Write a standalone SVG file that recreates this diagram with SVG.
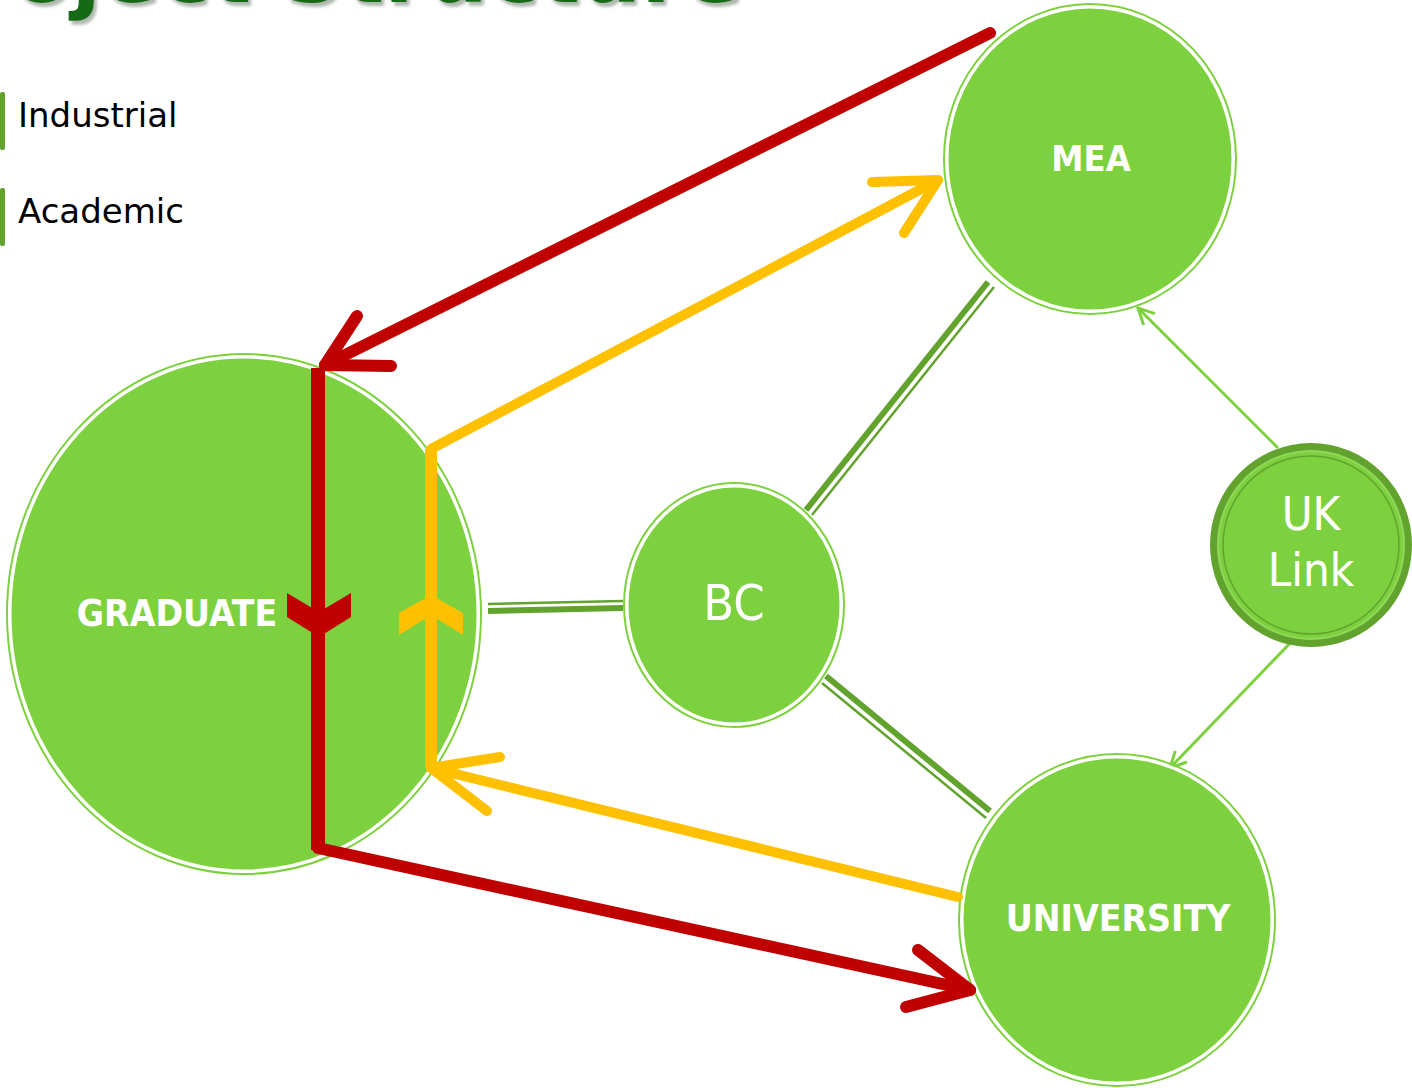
<svg xmlns="http://www.w3.org/2000/svg" width="1412" height="1088" viewBox="0 0 1412 1088">
<defs>
<style>
.node{fill:#7ED13E;stroke:#ffffff;stroke-width:3}
.ring{fill:none;stroke:#7ED13E;stroke-width:2}
.lbl{fill:#ffffff;font-family:"DejaVu Sans Condensed","DejaVu Sans",sans-serif;text-anchor:middle;dominant-baseline:central}
.b{font-weight:bold}
.thick{stroke:#62A32E;stroke-width:6;fill:none}
.thin{stroke:#62A32E;stroke-width:2.5;fill:none}
.link{stroke:#7ED13E;stroke-width:3;fill:none}
.red{stroke:#C00000;stroke-width:12;fill:none;stroke-linecap:round;stroke-linejoin:round}
.redv{stroke:#C00000;stroke-width:14;fill:none}
.yel{stroke:#FFC000;stroke-width:10;fill:none;stroke-linecap:round;stroke-linejoin:round}
.yelv{stroke:#FFC000;stroke-width:12;fill:none}
.leg{font-family:"DejaVu Sans","Verdana",sans-serif;font-size:34px;fill:#000}
</style>
<filter id="shadow" x="-5%" y="-50%" width="110%" height="200%">
<feDropShadow dx="3" dy="4" stdDeviation="1.5" flood-color="#7a8a7a" flood-opacity="0.6"/>
</filter>
<marker id="open" viewBox="0 0 20 20" refX="18" refY="10" markerWidth="20" markerHeight="20" markerUnits="userSpaceOnUse" orient="auto">
<path d="M2,2 L18,10 L2,18" fill="none" stroke="#7ED13E" stroke-width="3"/>
</marker>
</defs>
<rect width="1412" height="1088" fill="#ffffff"/>
<g id="title">
<text x="742" y="2" font-family="DejaVu Sans,Verdana,sans-serif" font-weight="bold" font-size="86" fill="#176A17" text-anchor="end" filter="url(#shadow)">Project Structure</text>
</g>
<g id="legend">
<rect x="0" y="92" width="5" height="58" rx="2" fill="#62A32E"/>
<text class="leg" x="18" y="127">Industrial</text>
<rect x="0" y="188" width="5" height="58" rx="2" fill="#62A32E"/>
<text class="leg" x="18" y="223">Academic</text>
</g>
<g id="connectors">
<line class="thin" x1="488" y1="604" x2="623" y2="601"/>
<line class="thick" x1="488" y1="611" x2="623" y2="608"/>
<line class="thick" x1="806" y1="510" x2="988" y2="282"/>
<line class="thin" x1="812" y1="515" x2="994" y2="287"/>
<line class="thick" x1="826" y1="676" x2="990" y2="811"/>
<line class="thin" x1="822" y1="683" x2="986" y2="818"/>
<line class="link" x1="1278" y1="448" x2="1138" y2="308" marker-end="url(#open)"/>
<line class="link" x1="1296" y1="637" x2="1170" y2="768" marker-end="url(#open)"/>
</g>
<g id="graduate">
<ellipse class="ring" cx="244" cy="614" rx="237" ry="260"/>
<ellipse class="node" cx="244" cy="614" rx="234" ry="257"/>
<text class="lbl b" x="177" y="613" font-size="37">GRADUATE</text>
</g>
<g id="mea">
<ellipse class="ring" cx="1090" cy="159" rx="146" ry="155"/>
<ellipse class="node" cx="1090" cy="159" rx="143" ry="152"/>
<text class="lbl b" x="1091" y="158" font-size="36">MEA</text>
</g>
<g id="bc">
<ellipse class="ring" cx="734" cy="605" rx="110" ry="122"/>
<ellipse class="node" cx="734" cy="605" rx="107" ry="119"/>
<text class="lbl" x="734" y="603" font-size="50">BC</text>
</g>
<g id="uklink">
<ellipse cx="1311" cy="545" rx="101" ry="102" fill="#62A32E"/>
<ellipse cx="1311" cy="545" rx="93" ry="94" fill="#7ED13E" stroke="#8FD85A" stroke-width="2"/>
<ellipse cx="1311" cy="545" rx="88" ry="89" fill="#7ED13E" stroke="#62A32E" stroke-width="1.5"/>
<text class="lbl" x="1311" y="513" font-size="47" font-family="DejaVu Sans,sans-serif">UK</text>
<text class="lbl" x="1311" y="569" font-size="47" font-family="DejaVu Sans,sans-serif">Link</text>
</g>
<g id="university">
<ellipse class="ring" cx="1117" cy="920" rx="158" ry="166"/>
<ellipse class="node" cx="1117" cy="920" rx="155" ry="163"/>
<text class="lbl b" x="1118" y="918" font-size="37">UNIVERSITY</text>
</g>
<g id="flows">
<line class="redv" x1="318" y1="368" x2="318" y2="850"/>
<polyline class="red" points="990,33 325,365"/>
<polyline class="red" points="357,316 325,365 391,366"/>
<polygon fill="#C00000" points="287,593 287,617 319,637 351,617 351,593 319,612"/>
<polyline class="red" points="318,848 970,990"/>
<polyline class="red" points="918,950 970,990 906,1007"/>
<line class="yelv" x1="431" y1="449" x2="431" y2="768"/>
<polyline class="yel" points="431,449 938,180"/>
<polyline class="yel" points="872,182 938,180 904,233"/>
<polygon fill="#FFC000" points="399,613 399,635 431,615 463,635 463,613 431,595"/>
<polyline class="yel" points="958,897 431,768"/>
<polyline class="yel" points="500,757 431,768 487,811"/>
</g>
</svg>
